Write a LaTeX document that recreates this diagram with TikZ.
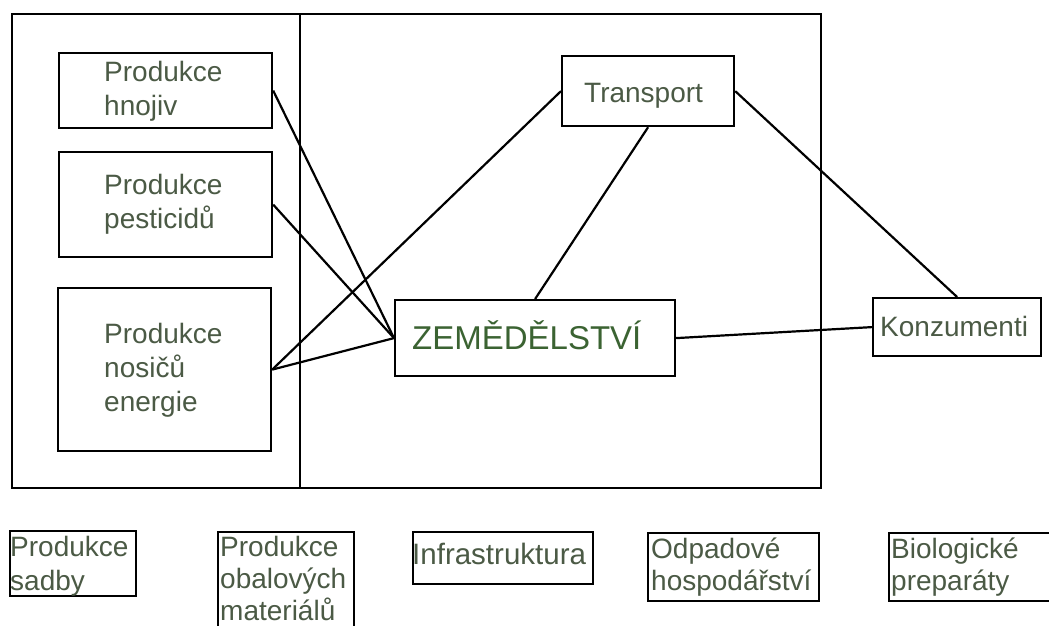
\documentclass[tikz,border=0pt]{standalone}
\usepackage{fontspec}
\setmainfont{Liberation Sans}
\definecolor{txt}{HTML}{4B5A45}
\definecolor{zem}{HTML}{3B6332}
\tikzset{
  box/.style={draw=black, line width=2.2pt, inner sep=0pt, anchor=north west},
  lbl/.style={text=txt, inner sep=0pt, anchor=base west, align=left,
              font=\fontsize{28}{34}\selectfont},
  conn/.style={draw=black, line width=2.2pt}
}
\begin{document}
\begin{tikzpicture}[x=1pt,y=-1pt]
\useasboundingbox[fill=white] (0,0) rectangle (1049,626);
\clip (0,0) rectangle (1049,626);
% frame
\draw[line width=2.2pt] (12,14) rectangle (821,488);
\draw[line width=2.2pt] (300,14) -- (300,488);
% boxes
\node[box, minimum width=213pt, minimum height=75pt]  (hnojiv) at (58,52) {};
\node[box, minimum width=213pt, minimum height=105pt] (pest)   at (58,151) {};
\node[box, minimum width=213pt, minimum height=163pt] (nosic)  at (57,287) {};
\node[box, minimum width=172pt, minimum height=70pt]  (trans)  at (561,55) {};
\node[box, minimum width=280pt, minimum height=76pt]  (zemed)  at (394,299) {};
\node[box, minimum width=168pt, minimum height=58pt]  (konz)   at (872,297) {};
\node[box, minimum width=126pt, minimum height=65pt]  (sadby)  at (9,530) {};
\node[box, minimum width=136pt, minimum height=110pt] (obal)   at (217,531) {};
\node[box, minimum width=180pt, minimum height=52pt]  (infra)  at (412,531) {};
\node[box, minimum width=171pt, minimum height=68pt]  (odpad)  at (647,532) {};
\node[box, minimum width=175pt, minimum height=68pt]  (bio)    at (888,532) {};
% labels (base anchor = baseline of the last line)
\node[lbl] (l1) at (104,115) {Produkce\\hnojiv};
\node[lbl] (l2) at (104,228) {Produkce\\pesticidů};
\node[lbl] (l3) at (104,411) {Produkce\\nosičů\\energie};
\node[lbl] (l4) at (584,102) {Transport};
\node[lbl, text=zem, font=\fontsize{33}{38}\selectfont] (l5) at (412,349) {ZEMĚDĚLSTVÍ};
\node[lbl] (l6) at (880,336) {Konzumenti};
\node[lbl] (l7) at (10,590) {Produkce\\sadby};
\node[lbl, font=\fontsize{28}{32}\selectfont] (l8) at (220,620) {Produkce\\obalových\\materiálů};
\node[lbl, font=\fontsize{29.5}{34}\selectfont] (l9) at (412,564) {Infrastruktura};
\node[lbl, font=\fontsize{28}{32}\selectfont] (l10) at (651,590) {Odpadové\\hospodářství};
\node[lbl, font=\fontsize{28}{32}\selectfont] (l11) at (891,590) {Biologické\\preparáty};
% connectors
\draw[conn] (hnojiv.east) -- (zemed.west);
\draw[conn] (pest.east) -- (zemed.west);
\draw[conn] (nosic.east) -- (zemed.west);
\draw[conn] (nosic.east) -- (trans.west);
\draw[conn] (trans.south) -- (zemed.north);
\draw[conn] (trans.east) -- (konz.north);
\draw[conn] (zemed.east) -- (konz.west);
\end{tikzpicture}
\end{document}
